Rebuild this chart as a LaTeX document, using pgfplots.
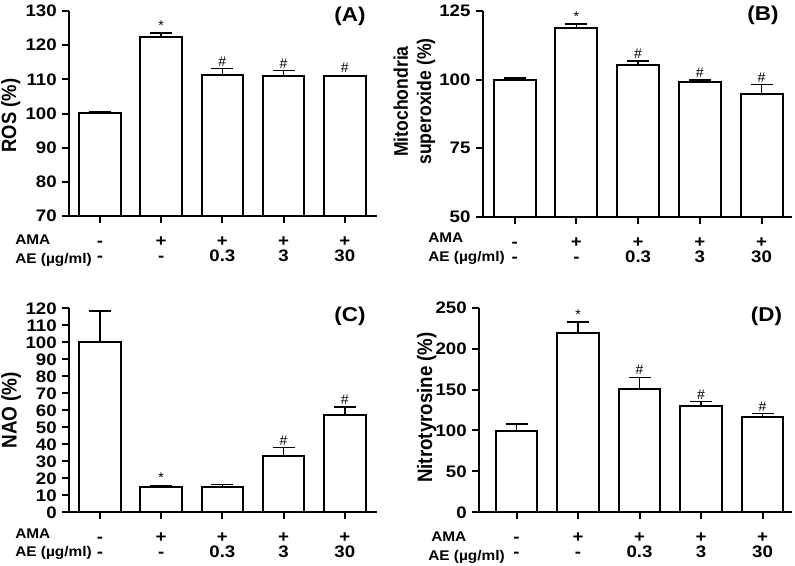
\documentclass[border=0pt]{standalone}
\usepackage{fontspec}
\setmainfont{Liberation Sans}
\usepackage{pgfplots}
\pgfplotsset{compat=1.18}

\pgfplotsset{
  panel/.style={
    scale only axis,
    anchor=south west,
    axis x line=bottom, axis y line=left,
    axis line style={-, line width=1.5pt},
    tick style={black, line width=1.5pt},
    major tick length=5.25pt,
    tick align=outside,
    enlargelimits=false,
    /pgf/number format/assume math mode=true,
    tick label style={font=\bfseries\fontsize{12.5}{14}\selectfont, xscale=1.12},
    xtick={0,1,2,3,4},
    xticklabels={-,+,+,+,+},
    xticklabel style={anchor=base, inner sep=0pt, yshift=-17.5pt},
    extra x ticks={0,1,2,3,4},
    extra x tick labels={-,-,0.3,3,30},
    extra x tick style={major tick length=0pt, xticklabel style={yshift=-16.5pt}},
    ylabel style={anchor=center, align=center, yscale=1.12},
  },
  bars/.style={ybar, bar width=0.68, fill=white, draw=black, line width=1.5pt,
    error bars/y dir=plus, error bars/y explicit,
    error bars/error bar style={line width=1.1pt},
    error bars/error mark options={rotate=90, mark size=8.25pt, line width=1.1pt}},
  stars/.style={draw=none, nodes near coords, point meta=explicit symbolic,
    nodes near coords style={anchor=south, font=\fontsize{10.5}{11}\selectfont, inner sep=1.5pt}},
}

\begin{document}
\begin{tikzpicture}
\path[use as bounding box] (0,0) rectangle (596.25pt,-423.75pt);

% (A)
\begin{axis}[panel, at={(51.75pt,-162pt)}, width=231pt, height=153.75pt,
  xmin=-0.504, xmax=4.525, ymin=70, ymax=130, ytick={70,80,...,130},
  ylabel={ROS (\%)},
  ylabel style={font=\bfseries\fontsize{13.8}{15}\selectfont, at={(axis description cs:-0.189,0.49)}}]
\addplot[bars] coordinates {(0,100.1) +- (0,0.5) (1,122.3) +- (0,1.3) (2,111.3) +- (0,1.8) (3,110.9) +- (0,1.7) (4,110.9) +- (0,0.3)};
\addplot[stars] coordinates {(1,123.7) [*] (2,113.1) [\#] (3,112.6) [\#] (4,111.2) [\#]};
\end{axis}

% (B)
\begin{axis}[panel, at={(362.0pt,-162.5pt)}, width=231.75pt, height=154.3pt,
  xmin=-0.519, xmax=4.488, ymin=50, ymax=125, ytick={50,75,100,125},
  ylabel={Mitochondria\\superoxide (\%)},
  ylabel style={font=\bfseries\fontsize{13.2}{15.5}\selectfont, at={(axis description cs:-0.221,0.56)}}]
\addplot[bars] coordinates {(0,100) +- (0,0.5) (1,118.7) +- (0,1.6) (2,105.2) +- (0,1.6) (3,99.2) +- (0,0.6) (4,94.6) +- (0,3.6)};
\addplot[stars] coordinates {(1,120.3) [*] (2,106.8) [\#] (3,99.8) [\#] (4,98.2) [\#]};
\end{axis}

% (C)
\begin{axis}[panel, at={(51.75pt,-384.2pt)}, width=231pt, height=153pt,
  xmin=-0.504, xmax=4.525, ymin=0, ymax=120, ytick={0,10,...,120},
  ylabel={NAO (\%)},
  ylabel style={font=\bfseries\fontsize{14.2}{16}\selectfont, at={(axis description cs:-0.188,0.5)}}]
\addplot[bars] coordinates {(0,100) +- (0,18.4) (1,15.1) +- (0,0.8) (2,14.7) +- (0,1.5) (3,33.3) +- (0,4.7) (4,57) +- (0,4.9)};
\addplot[stars] coordinates {(1,15.9) [*] (3,38) [\#] (4,61.9) [\#]};
\end{axis}

% (D)
\begin{axis}[panel, at={(359.25pt,-384.2pt)}, width=234.5pt, height=153.45pt,
  xmin=-0.611, xmax=4.473, ymin=0, ymax=250, ytick={0,50,...,250},
  ylabel={Nitrotyrosine (\%)},
  ylabel style={font=\bfseries\fontsize{14}{15}\selectfont, at={(axis description cs:-0.167,0.512)}}]
\addplot[bars] coordinates {(0,99.7) +- (0,8.3) (1,218.8) +- (0,13.8) (2,150.7) +- (0,14.3) (3,130.3) +- (0,4.9) (4,116.1) +- (0,4.4)};
\addplot[stars] coordinates {(1,232.6) [*] (2,165) [\#] (3,135.2) [\#] (4,120.5) [\#]};
\end{axis}

\begin{scope}[x=0.75pt, y=-0.75pt]
  \tikzset{rowh/.style={anchor=base west, inner sep=0pt, font=\bfseries\fontsize{10.5}{12}\selectfont, xscale=1.1},
           plab/.style={font=\bfseries\fontsize{15}{18}\selectfont, xscale=1.12}}
  \node[rowh] at (15,244) {AMA};
  \node[rowh] at (15,263) {AE (µg/ml)};
  \node[rowh] at (428,242) {AMA};
  \node[rowh] at (428,261.5) {AE (µg/ml)};
  \node[rowh] at (15,538) {AMA};
  \node[rowh] at (15,556.5) {AE (µg/ml)};
  \node[rowh] at (431,541) {AMA};
  \node[rowh] at (428,560) {AE (µg/ml)};
  \node[plab] at (350,16) {(A)};
  \node[plab] at (763,15) {(B)};
  \node[plab] at (350,316.5) {(C)};
  \node[plab] at (766.5,316) {(D)};
\end{scope}
\end{tikzpicture}
\end{document}
